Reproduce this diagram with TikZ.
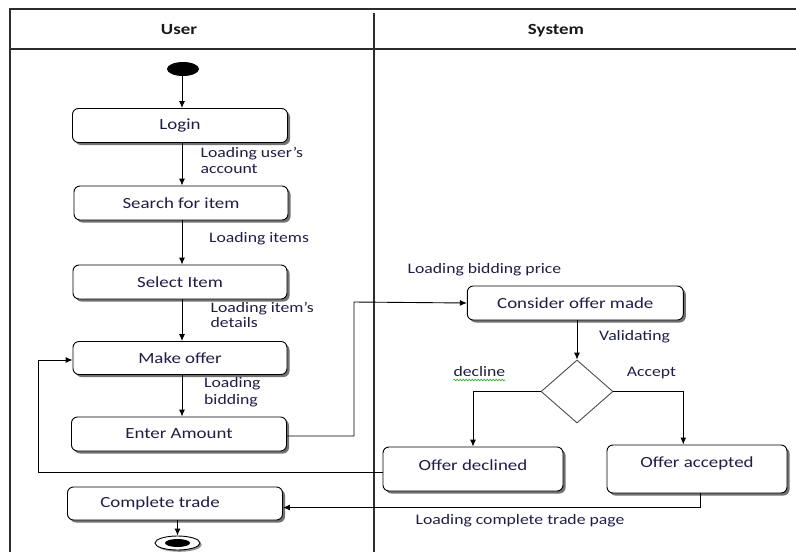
\documentclass[tikz,border=0pt]{standalone}
\usepackage{fontspec}
\setmainfont[FakeStretch=1.22]{Carlito}
\usetikzlibrary{arrows.meta,shapes.geometric,shadows,decorations.pathmorphing,calc}

\definecolor{ink}{RGB}{30,30,70}
\definecolor{lanegray}{RGB}{45,45,45}
\definecolor{spellgreen}{RGB}{60,170,60}

\begin{document}
\begin{tikzpicture}[x=1pt,y=-1pt,
  activity/.style={draw=black, line width=0.9pt, rounded corners=6pt, fill=white,
    text=ink, font=\fontsize{15.5}{18}\selectfont, inner sep=0pt,
    drop shadow={shadow xshift=2.5pt, shadow yshift=-2.5pt, fill=black!65, opacity=0.85}},
  lbl/.style={text=ink, font=\fontsize{14.5}{15.5}\selectfont, inner sep=0pt,
    anchor=base west, align=left},
  head/.style={font=\bfseries\fontsize{15.5}{18}\selectfont, text=black!90,
    inner sep=0pt, anchor=base},
  flow/.style={draw=black, line width=0.9pt, -{Latex[length=7pt,width=6pt]}},
  lane/.style={draw=lanegray, line width=1.8pt}]

\useasboundingbox (0,0) rectangle (796,552);

% swimlane frame
\draw[lane] (796,9) -- (10,9) -- (10,552);
\draw[lane] (10,49) -- (796,49);
\draw[lane] (374,13) -- (374,552);
\node[head] (userhead) at (179,34) {User};
\node[head] (syshead) at (556,34) {System};

% start and end states
\node[ellipse, fill=black, minimum width=32pt, minimum height=14pt, inner sep=0pt] (start) at (183,69) {};
\node[ellipse, draw=black, line width=0.9pt, fill=white, minimum width=45pt, minimum height=14pt, inner sep=0pt,
  drop shadow={shadow xshift=1.8pt, shadow yshift=-1.8pt, fill=black!60, opacity=0.7}] (finish) at (177.5,543) {};
\node[ellipse, fill=black, minimum width=25pt, minimum height=8pt, inner sep=0pt] (finishdot) at (177.5,543) {};

% user lane activities
\node[activity, minimum width=215pt, minimum height=34pt] (login) at (180,125.5) {Login};
\node[activity, minimum width=214pt, minimum height=34pt] (search) at (181,203) {Search for item};
\node[activity, minimum width=214pt, minimum height=34pt] (select) at (180,282) {Select Item};
\node[activity, minimum width=214pt, minimum height=33pt] (offer) at (180,358) {Make offer};
\node[activity, minimum width=215pt, minimum height=34pt] (amount) at (179,434) {Enter Amount};
\node[activity, minimum width=215pt, minimum height=33pt] (complete) at (175,503.5) {\hspace*{-30pt}Complete trade};

% system lane activities (text sits in the upper part of the two outcome boxes)
\node[activity, minimum width=216pt, minimum height=34pt] (consider) at (575.3,303) {Consider offer made};
\node[diamond, draw=black!70, line width=0.9pt, fill=white, minimum width=72pt, minimum height=63pt, inner sep=0pt] (check) at (577,391.5) {};
\node[activity, minimum width=180pt, minimum height=44pt, text height=11pt, text depth=8pt] (declined) at (473,469) {Offer declined};
\node[activity, minimum width=180pt, minimum height=48pt, text height=11pt, text depth=15pt] (accepted) at (697,469) {Offer accepted};

% routing points
\coordinate (spine) at (182,0);
\coordinate (bidjog) at (354,302);
\coordinate (backx) at (38,0);
\coordinate (acceptx) at (683.3,0);

% flows in the user lane
\draw[flow] (start.south -| spine) -- (login.north -| spine);
\draw[flow] (login.south -| spine) -- (search.north -| spine);
\draw[flow] (search.south -| spine) -- (select.north -| spine);
\draw[flow] (select.south -| spine) -- (offer.north -| spine);
\draw[flow] (offer.south -| spine) -- (amount.north -| spine);
\draw[flow] (complete.south -| finish) -- (finish.north);

% flows across and within the system lane
\draw[flow] ([yshift=-2pt]amount.east) -| (bidjog) -- (consider.west);
\draw[flow] (consider.south -| check) -- (check.north);
\draw[flow] (check.west) -| (declined.north);
\draw[flow] (check.east) -| (accepted.north -| acceptx);
\draw[flow] ([yshift=-3pt]declined.west) -- ([yshift=-3pt]declined.west -| backx) |- ([yshift=-2pt]offer.west);
\draw[flow] ([xshift=3pt]accepted.south) |- ([yshift=-4pt]complete.east);

% flow labels (base anchor sits on the last line of a two-line label)
\node[lbl] (l1) at (200.5,173) {Loading user’s\\account};
\node[lbl] (l2) at (209,242.3) {Loading items};
\node[lbl] (l3) at (210.5,327.7) {Loading item’s\\details};
\node[lbl, font=\fontsize{14.5}{16.5}\selectfont] (l4) at (204,404) {Loading\\bidding};
\node[lbl] (l5) at (407.5,273.3) {Loading bidding price};
\node[lbl] (l6) at (599,340) {Validating};
\node[lbl] (l7) at (453.3,376) {decline};
\node[lbl] (l8) at (626.7,376) {Accept};
\node[lbl] (l9) at (415.5,524.3) {Loading complete trade page};
\draw[spellgreen, line width=0.7pt, decorate, decoration={snake, amplitude=0.8pt, segment length=3pt}]
  (l7.base west |- 0,380) -- (l7.base east |- 0,380);

\end{tikzpicture}
\end{document}
